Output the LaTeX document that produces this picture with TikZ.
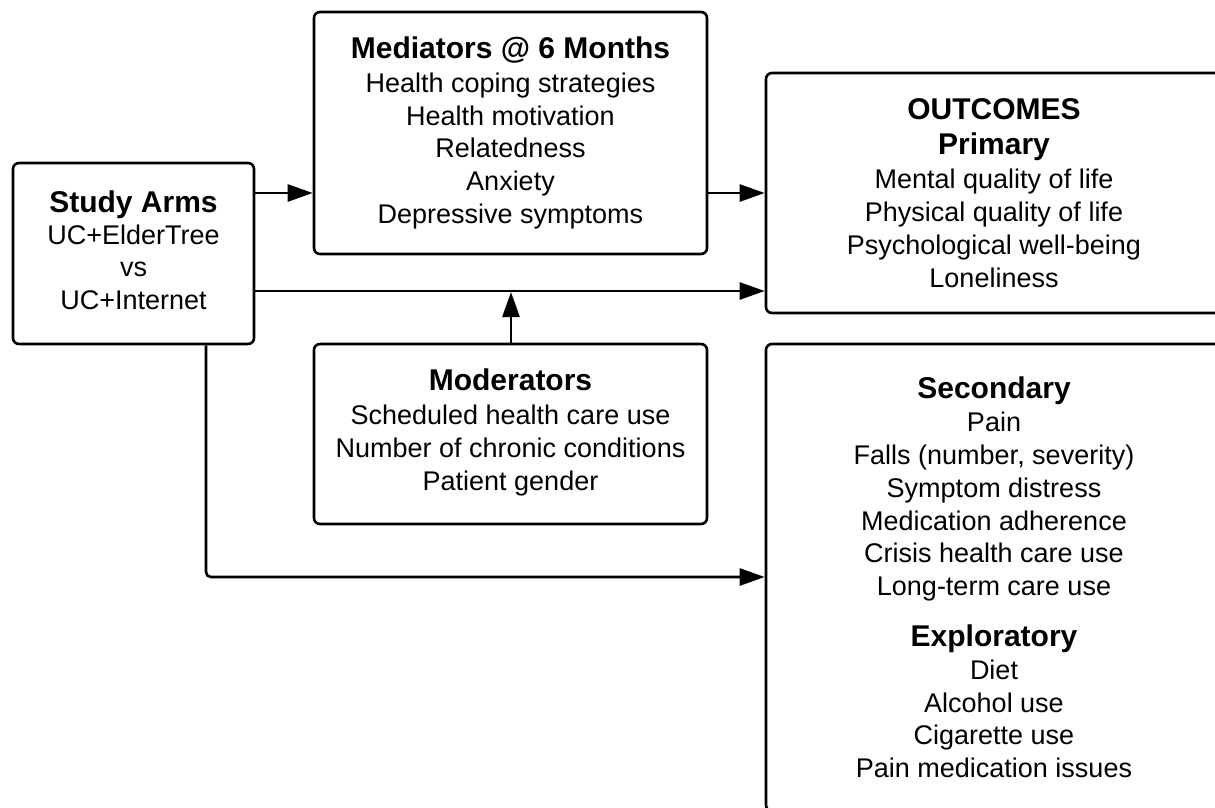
\documentclass[tikz,border=0pt]{standalone}
\usepackage{fontspec}
\setmainfont{Liberation Sans}
\usetikzlibrary{arrows.meta}
\newcommand\boxtitle[1]{{\fontsize{30}{32.8}\selectfont\bfseries #1}}
\begin{document}
\begin{tikzpicture}[x=1pt,y=1pt,
  box/.style={draw,line width=2.6pt,rounded corners=6pt,align=center,inner sep=0pt,
    font=\fontsize{27}{32.8}\selectfont},
  arr/.style={line width=2.6pt,-{Triangle[length=25pt,width=17pt]}}]
\useasboundingbox (0,0) rectangle (1215,-807);
\clip (0,0) rectangle (1215,-807);
\fill[white] (0,0) rectangle (1215,-807);

\node[box,minimum width=241pt,minimum height=181pt] (sa) at (133.5,-253.5)
  {\boxtitle{Study Arms}\\[-1pt]UC+ElderTree\\vs\\UC+Internet\\[-26pt]\mbox{}};
\node[box,minimum width=393pt,minimum height=242pt] (med) at (510.5,-133)
  {\boxtitle{Mediators @ 6 Months}\\[1pt]Health coping strategies\\Health motivation\\Relatedness\\Anxiety\\Depressive symptoms};
\node[box,minimum width=456pt,minimum height=240pt] (out) at (994,-193)
  {\boxtitle{OUTCOMES}\\[2pt]\boxtitle{Primary}\\[2pt]Mental quality of life\\Physical quality of life\\Psychological well-being\\Loneliness};
\node[box,minimum width=393pt,minimum height=180pt] (mod) at (510.5,-434)
  {\mbox{}\\[-14pt]\boxtitle{Moderators}\\[1pt]Scheduled health care use\\Number of chronic conditions\\Patient gender};
\node[box,minimum width=456pt,minimum height=467pt] (sec) at (994,-577.5)
  {\boxtitle{Secondary}\\Pain\\Falls (number, severity)\\Symptom distress\\Medication adherence\\Crisis health care use\\Long-term care use\\[18pt]
   \boxtitle{Exploratory}\\Diet\\Alcohol use\\Cigarette use\\Pain medication issues};

\coordinate (a1) at (254,-193);
\coordinate (a2) at (707,-193);
\coordinate (a3) at (254,-291);
\coordinate (a4) at (511,-292);
\coordinate (a5) at (206,-344);
\coordinate (a6) at (206,-577);

\draw[arr] (sa.east |- a1) -- (med.west |- a1);
\draw[arr] (med.east |- a2) -- (out.west |- a2);
\draw[arr] (sa.east |- a3) -- (out.west |- a3);
\draw[arr] (mod.north -| a4) -- (a4);
\draw[arr,rounded corners=5pt] (sa.south -| a5) -- (a6) -- (sec.west |- a6);
\end{tikzpicture}
\end{document}
